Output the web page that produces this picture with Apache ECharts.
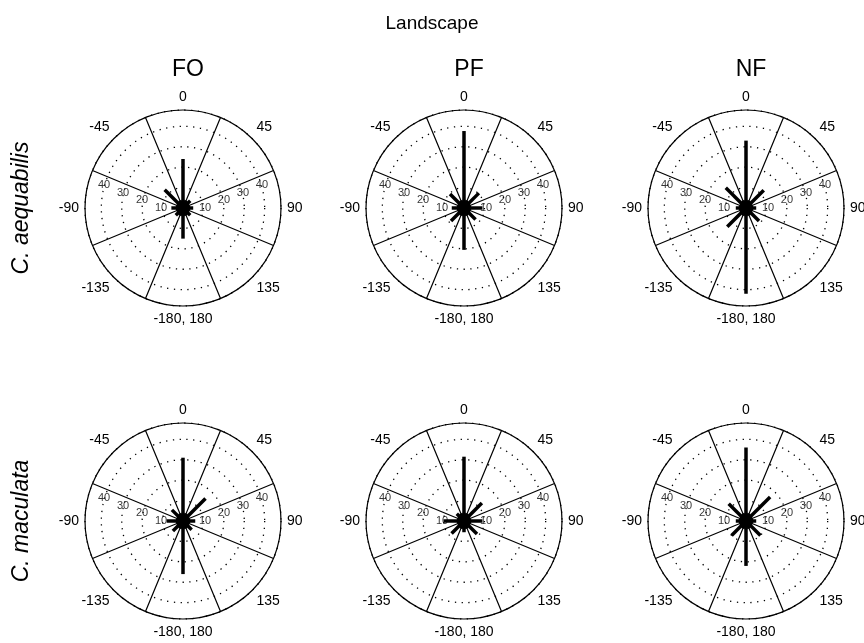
<!DOCTYPE html>
<html>
<head>
<meta charset="utf-8">
<script src="https://cdn.jsdelivr.net/npm/echarts@6/dist/echarts.min.js"></script>
<style>
  html, body { margin: 0; padding: 0; background: #fff; }
  #main { width: 864px; height: 643px; }
</style>
</head>
<body>
<div id="main"></div>
<script>
// compass bins (degrees, 0 = north, clockwise)
var angles = [0, 22.5, 45, 67.5, 90, 112.5, 135, 157.5, 180, -157.5, -135, -112.5, -90, -67.5, -45, -22.5];

// lengths of each bin, per panel
var aeqFO = [24, 4, 5, 3.5, 5, 3.5, 5, 4, 15, 4, 5, 3.5, 5.7, 3.5, 12.7, 4];
var aeqPF = [37.7, 4, 10.3, 3.5, 9, 3.5, 8, 4, 20.5, 4, 9, 3.5, 6, 3.5, 9.7, 4];
var aeqNF = [33, 4, 12.3, 3.5, 5, 3.5, 9, 4, 42, 4, 13, 3.5, 5, 3.5, 14, 4];
var macFO = [31, 4, 15.6, 3.5, 6, 3.5, 6, 4, 26, 4, 7, 3.5, 8, 3.5, 7.7, 4];
var macPF = [31.5, 4, 12.4, 3.5, 9, 3.5, 9, 4, 5.5, 4, 8.6, 3.5, 10, 3.5, 5, 4];
var macNF = [36, 4, 16.7, 3.5, 5, 3.5, 10, 4, 22, 4, 10, 3.5, 5, 3.5, 12, 4];

var ringLabels = [10, 20, 30, 40];
var columns = ['FO', 'PF', 'NF'];
var species = ['C. aequabilis', 'C. maculata'];
var panels = [aeqFO, aeqPF, aeqNF, macFO, macPF, macNF];

var colX = [183, 464, 746];
var rowY = [208, 521];
var R = 98;
var rMax = 48;

var chart = echarts.init(document.getElementById('main'));

var polar = [], angleAxis = [], radiusAxis = [], series = [];
panels.forEach(function (vals, i) {
  var cx = colX[i % 3], cy = rowY[Math.floor(i / 3)];
  polar.push({ center: [cx, cy], radius: R });
  angleAxis.push({
    polarIndex: i, type: 'value', min: -180, max: 180, interval: 45,
    startAngle: 270, clockwise: true,
    axisLine: { lineStyle: { color: '#000', width: 1.2 } },
    axisTick: { show: false },
    axisLabel: {
      margin: 6, color: '#000', fontSize: 14, fontFamily: 'Liberation Sans',
      formatter: function (v) {
        if (v === -180) return '-180, 180';
        if (v === 180) return '';
        return String(v);
      }
    },
    splitLine: { show: false },
    minorTick: { show: false, splitNumber: 2 },
    minorSplitLine: { show: true, lineStyle: { color: '#000', width: 1.2 } }
  });
  radiusAxis.push({
    polarIndex: i, type: 'value', min: 0, max: rMax, interval: 10,
    axisLine: { show: false }, axisTick: { show: false }, axisLabel: { show: false },
    splitLine: { show: true, lineStyle: { color: '#000', width: 1.3, type: [1.3, 5.5] } }
  });
  // radial bars
  series.push({
    type: 'custom', coordinateSystem: 'polar', polarIndex: i, z: 5,
    data: vals.map(function (v, k) { return [v, angles[k]]; }),
    renderItem: function (params, api) {
      var a = api.value(1);
      var p0 = api.coord([0, a]);
      var p1 = api.coord([api.value(0), a]);
      return {
        type: 'line',
        shape: { x1: p0[0], y1: p0[1], x2: p1[0], y2: p1[1] },
        style: { stroke: '#000', lineWidth: 3.5 }
      };
    }
  });
  // ring value labels on both sides
  var lab = [];
  ringLabels.forEach(function (r) {
    lab.push({ value: [r, 68.5], label: { offset: [3, 7] } });
    lab.push({ value: [r, -68.5], label: { offset: [-3, 7] } });
  });
  series.push({
    type: 'scatter', coordinateSystem: 'polar', polarIndex: i, symbolSize: 0, z: 6,
    silent: true,
    data: lab,
    label: {
      show: true, position: 'inside', color: '#000', fontSize: 11,
      fontFamily: 'Liberation Sans',
      formatter: function (p) { return String(p.value[0]); }
    }
  });
});

var titles = [{
  text: 'Landscape', left: 'center', top: 9,
  textStyle: { fontSize: 19, fontWeight: 'normal', color: '#000', fontFamily: 'Liberation Sans' }
}];
columns.forEach(function (c, j) {
  titles.push({
    text: c, left: colX[j], top: 53, textAlign: 'center',
    textStyle: { fontSize: 23, fontWeight: 'normal', color: '#000', fontFamily: 'Liberation Sans' }
  });
});

chart.setOption({
  animation: false,
  backgroundColor: '#fff',
  title: titles,
  polar: polar,
  angleAxis: angleAxis,
  radiusAxis: radiusAxis,
  series: series,
  graphic: species.map(function (s, j) {
    return {
      type: 'text', x: 22, y: rowY[j], rotation: Math.PI / 2,
      style: {
        text: s, fill: '#000', font: 'italic 23px "Liberation Sans"',
        textAlign: 'center', textVerticalAlign: 'middle'
      }
    };
  })
});
</script>
</body>
</html>
